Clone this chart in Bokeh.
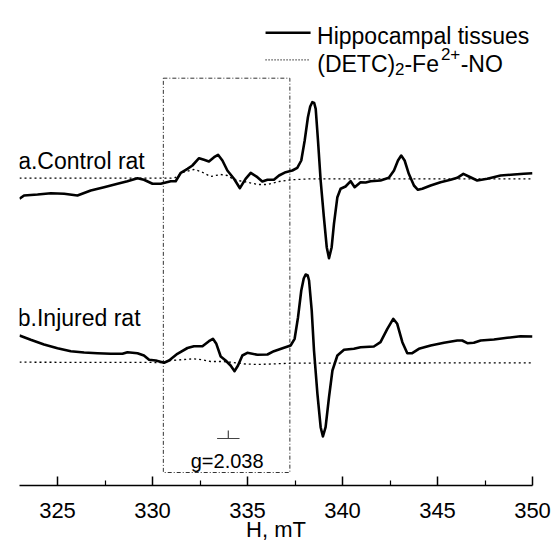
from bokeh.plotting import figure
from bokeh.models import Range1d, FixedTicker
from bokeh.embed import file_html
from bokeh.resources import INLINE
from bokeh.core.properties import value

# ---------------- data (field in mT, EPR signal in arbitrary units) ----------------
field_a = [323.0, 323.24, 323.95, 324.65, 325.35, 326.05, 326.75, 327.45, 328.16, 328.68,
           329.21, 329.55, 330.0, 330.43, 330.96, 331.22, 331.49, 331.84, 332.10, 332.45,
           332.71, 332.97, 333.24, 333.45, 333.68, 333.94, 334.29, 334.60, 334.90, 335.17,
           335.52, 335.78, 336.05, 336.39, 336.66, 337.01, 337.36, 337.62, 337.83, 338.01,
           338.18, 338.30, 338.41, 338.51, 338.59, 338.71, 338.85, 339.02, 339.17, 339.29,
           339.43, 339.55, 339.73, 339.90, 340.16, 340.43, 340.64, 340.95, 341.22, 341.48,
           342.00, 342.44, 342.71, 342.92, 343.09, 343.27, 343.49, 343.76, 343.97, 344.20,
           344.64, 345.16, 345.69, 346.04, 346.36, 346.65, 347.09, 347.62, 348.32, 349.02,
           349.54, 350.0]
signal_a = [286.7, 290, 291, 292.3, 291.7, 290, 295, 298.3, 301.7, 304.3,
            307.3, 305.7, 301.7, 301.7, 304.3, 304.3, 312.7, 316.7, 320, 327.3,
            325.7, 324, 328.3, 330.7, 325, 315, 306.7, 297.3, 306.7, 312.7,
            308.3, 304, 305.7, 305.7, 310, 313.3, 315, 317.7, 325, 345,
            368.3, 379, 383.3, 382.5, 376.7, 345, 305, 268.3, 238.3, 227.3,
            238.3, 261.7, 288.3, 296.7, 299, 304.3, 298.3, 303.3, 303, 304.3,
            305, 307.7, 315, 325, 330, 325, 311.7, 300, 295.7, 296.7,
            300, 303.3, 305.7, 307.7, 311.7, 309, 305, 306.7, 310, 311,
            311.7, 312.3]

field_ref_a = [323.0, 330.96, 331.22, 331.59, 332.18, 332.54, 333.06, 333.59, 333.94, 334.29,
               334.99, 335.52, 336.05, 336.75, 337.27, 338.32, 350.0]
signal_ref_a = [307.3, 307.3, 308, 313, 316, 314, 309, 311, 310, 305.7,
                303.3, 301, 301, 304.3, 305.7, 306.7, 306.7]

field_b = [323.0, 323.59, 324.29, 325.0, 325.70, 326.40, 327.10, 327.80, 328.42, 328.68,
           329.21, 329.55, 329.82, 330.17, 330.61, 330.87, 331.31, 331.84, 332.18, 332.63,
           332.97, 333.18, 333.36, 333.59, 333.85, 334.11, 334.32, 334.50, 334.73, 334.99,
           335.52, 336.05, 336.39, 336.92, 337.27, 337.48, 337.66, 337.83, 337.96, 338.06,
           338.17, 338.24, 338.38, 338.50, 338.68, 338.85, 338.97, 339.11, 339.29, 339.47,
           339.73, 340.08, 340.60, 340.95, 341.65, 342.00, 342.36, 342.67, 342.88, 343.15,
           343.41, 343.67, 344.02, 344.64, 345.34, 346.04, 346.30, 346.57, 346.91, 347.27,
           347.97, 348.67, 349.37, 350.0]
signal_b = [150, 145.7, 141, 137.3, 134.3, 133, 132.3, 131.7, 131.7, 133.3,
            132.3, 130, 125.7, 125, 122.7, 125, 131.7, 137.5, 139.3, 139.3,
            144.3, 146.7, 141.7, 129, 125, 120, 114.3, 120, 130, 132.7,
            130.7, 131, 134.3, 137.7, 140, 146.7, 168.3, 195, 207, 211,
            210, 205, 175, 135, 91.7, 58.3, 49, 58.3, 88.3, 115,
            130, 135.7, 136.7, 138.3, 139, 143.3, 156.7, 166.7, 161.7, 143.3,
            132.3, 132.3, 136.7, 140, 142.7, 145, 145, 142.3, 142.7, 145,
            146, 147.7, 149.3, 149]

field_ref_b = [323.0, 330.61, 330.96, 332.18, 332.69, 333.06, 333.59, 334.11, 334.90, 335.52,
               336.22, 337.27, 350.0]
signal_ref_b = [123.3, 123, 125, 126.7, 125.5, 124, 124, 123.3, 121.5, 121,
                121.5, 122.3, 122.7]

major_ticks = [325, 330, 335, 340, 345, 350]
minor_ticks = [327.5, 332.5, 337.5, 342.5, 347.5]

FONT = "Liberation Sans"

p = figure(width=556, height=547, output_backend="svg", toolbar_location=None,
           x_range=Range1d(323.0, 350.0), y_range=Range1d(0, 485),
           min_border_left=19, min_border_right=24, min_border_top=0, min_border_bottom=62)
p.yaxis.visible = False
p.grid.visible = False
p.outline_line_color = None
p.background_fill_color = "white"
p.border_fill_color = "white"

ax = p.xaxis[0]
ax.ticker = FixedTicker(ticks=major_ticks, minor_ticks=minor_ticks)
ax.axis_line_width = 1.5
ax.axis_line_color = "black"
ax.major_tick_in = 9
ax.major_tick_out = 0
ax.minor_tick_in = 5
ax.minor_tick_out = 0
ax.major_tick_line_width = 1.5
ax.minor_tick_line_width = 1.2
ax.major_label_text_font = FONT
ax.major_label_text_font_size = "22px"
ax.major_label_text_color = "black"
ax.major_label_standoff = 17
ax.axis_label = "H, mT"
ax.axis_label_text_font = FONT
ax.axis_label_text_font_size = "22px"
ax.axis_label_text_font_style = "normal"
ax.axis_label_text_color = "black"
ax.axis_label_standoff = -4

# dash-dot box around the g=2.038 region
p.quad(left=[330.57], right=[337.23], bottom=[13], top=[407.3], fill_color=None,
       line_color="#333333", line_width=1, line_dash="4 2 1 2")

# reference (dotted) spectra
p.line(field_ref_a, signal_ref_a, line_color="black", line_width=1.3, line_dash="2 3")
p.line(field_ref_b, signal_ref_b, line_color="black", line_width=1.3, line_dash="2 3")

# tissue spectra
p.line(field_a, signal_a, line_color="black", line_width=2.6, line_join="round")
p.line(field_b, signal_b, line_color="black", line_width=2.6, line_join="round")

# g-marker
p.segment(x0=[333.99, 333.40], y0=[55, 47], x1=[333.99, 334.58], y1=[47, 47],
          line_color="#444444", line_width=1.2)
p.text(x=[333.93], y=[25], text=["g=2.038"], text_font=value(FONT), text_font_size="20px",
       text_align="center", text_baseline="alphabetic", text_color="black")

# curve labels
p.text(x=[322.93], y=[324.3], text=["a.Control rat"], text_font=value(FONT),
       text_font_size="23px", text_align="left", text_baseline="alphabetic", text_color="black")
p.text(x=[322.91], y=[167.7], text=["b.Injured rat"], text_font=value(FONT),
       text_font_size="23px", text_align="left", text_baseline="alphabetic", text_color="black")

# legend
p.line([335.95, 338.32], [452.7, 452.7], line_color="black", line_width=2.6)
p.text(x=[338.66], y=[450], text=["Hippocampal tissues"], text_font=value(FONT),
       text_font_size="23px", text_align="left", text_baseline="alphabetic", text_color="black")
p.line([335.95, 338.22], [425.7, 425.7], line_color="black", line_width=1.2, line_dash="1 2")
p.text(x=[338.67], y=[421.7], text=["(DETC)"], text_font=value(FONT),
       text_font_size="23px", text_align="left", text_baseline="alphabetic", text_color="black")
p.text(x=[342.76], y=[416.2], text=["2"], text_font=value(FONT),
       text_font_size="17px", text_align="left", text_baseline="alphabetic", text_color="black")
p.text(x=[343.26], y=[421.7], text=["-Fe"], text_font=value(FONT),
       text_font_size="23px", text_align="left", text_baseline="alphabetic", text_color="black")
p.text(x=[345.18], y=[431.2], text=["2+"], text_font=value(FONT),
       text_font_size="17px", text_align="left", text_baseline="alphabetic", text_color="black")
p.text(x=[346.22], y=[421.7], text=["-NO"], text_font=value(FONT),
       text_font_size="23px", text_align="left", text_baseline="alphabetic", text_color="black")

open("out.html", "w").write(file_html(p, INLINE))
